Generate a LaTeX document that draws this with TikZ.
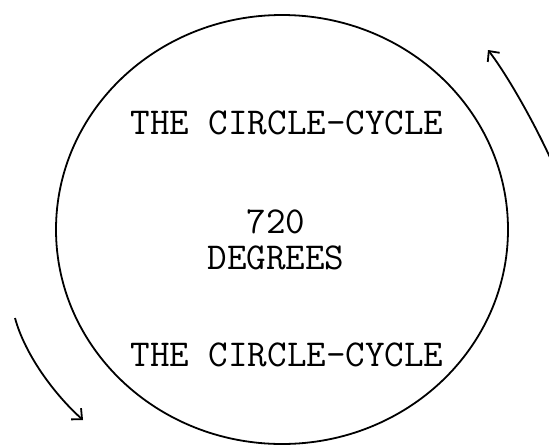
\documentclass[tikz,border=0pt]{standalone}
\usepackage{fontspec}
\usetikzlibrary{arrows.meta}
\tikzset{
  cycle text/.style={font=\ttfamily\fontsize{38}{42}\selectfont, inner sep=0pt},
  turn arrow/.style={line width=1.8pt, -{Straight Barb[length=8pt,width=15pt]}},
}
\begin{document}
\begin{tikzpicture}[x=1pt,y=-1pt]
\useasboundingbox (0,0) rectangle (549,445);
\coordinate (ctr) at (282,229.5);
\draw[line width=1.8pt] (ctr) ellipse [x radius=226pt, y radius=214.5pt];
\node[cycle text] (top) at (287,123) {THE CIRCLE-CYCLE};
\node[cycle text] (num) at (276,222) {720};
\node[cycle text] (deg) at (276,258) {DEGREES};
\node[cycle text] (bot) at (287,355) {THE CIRCLE-CYCLE};
\coordinate (rs) at (566,200);
\coordinate (re) at (488,50);
\coordinate (ls) at (15,318);
\coordinate (le) at (83,420);
\draw[turn arrow] (rs) .. controls (560,170) and (515,85) .. (re);
\draw[turn arrow] (ls) .. controls (25,355) and (55,395) .. (le);
\end{tikzpicture}
\end{document}
